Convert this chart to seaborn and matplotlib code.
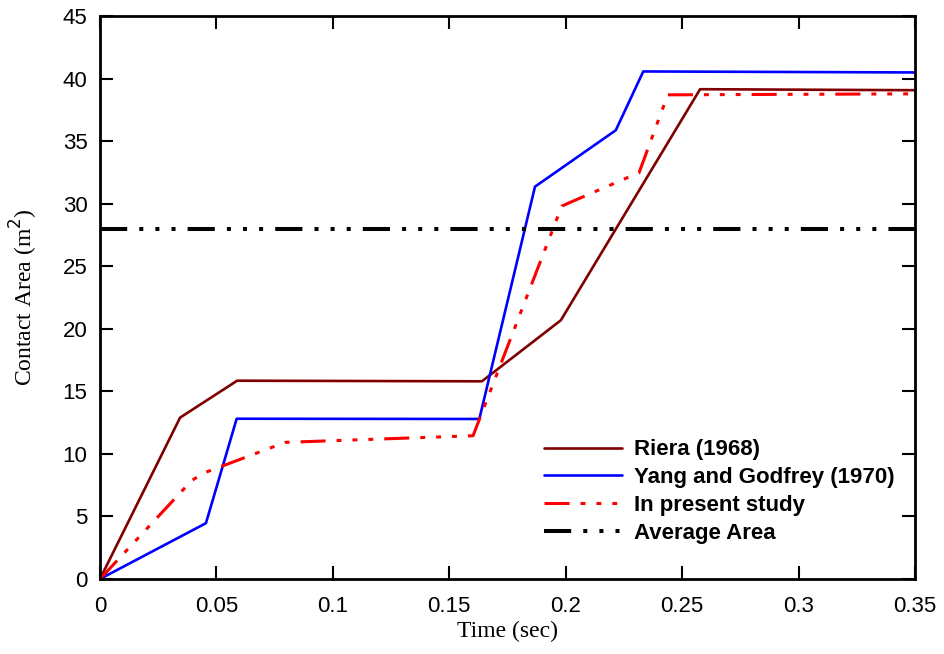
import numpy as np
import pandas as pd
import seaborn as sns
import matplotlib.pyplot as plt

# data
riera_t = [0, 0.0344, 0.0589, 0.164, 0.1979, 0.2577, 0.35]
riera_a = [0, 12.9, 15.85, 15.8, 20.68, 39.15, 39.07]

yang_t = [0, 0.0455, 0.0587, 0.1629, 0.1868, 0.2215, 0.2333, 0.35]
yang_a = [0, 4.46, 12.81, 12.79, 31.36, 35.87, 40.57, 40.49]

study_t = [0, 0.0394, 0.0443, 0.0795, 0.1602, 0.1983, 0.2016, 0.2315, 0.2438, 0.35]
study_a = [0, 7.87, 8.45, 10.92, 11.45, 29.8, 30.08, 32.48, 38.7, 38.78]

avg_area = 28
avg_t = [0, 0.35]

sns.set_style("ticks")
plt.rcParams['font.family'] = ['Liberation Sans', 'DejaVu Sans']
plt.rcParams['text.color'] = 'black'
plt.rcParams['axes.labelcolor'] = 'black'

fig = plt.figure(figsize=(9.45, 6.54), dpi=100)
ax = fig.add_axes([0.1058, 0.1147, 0.8625, 0.8608])

sns.lineplot(x=riera_t, y=riera_a, ax=ax, color='#800000', lw=1.9,
             sort=False, estimator=None, label='Riera (1968)')
sns.lineplot(x=yang_t, y=yang_a, ax=ax, color='#0000ff', lw=1.9,
             sort=False, estimator=None, label='Yang and Godfrey (1970)')
sns.lineplot(x=study_t, y=study_a, ax=ax, color='#ff0000', lw=2.2,
             sort=False, estimator=None, label='In present study',
             linestyle=(0, (8.2, 3.6, 1.6, 3.6, 1.6, 3.6, 1.6, 3.6)))
sns.lineplot(x=avg_t, y=[avg_area] * len(avg_t), ax=ax, color='black', lw=2.9,
             sort=False, estimator=None, label='Average Area',
             linestyle=(0, (6.75, 3, 1, 3, 1, 3, 1, 3)))

ax.set_xlim(0, 0.35)
ax.set_ylim(0, 45)
ax.set_xticks(np.arange(0, 0.351, 0.05))
ax.set_xticklabels(['0', '0.05', '0.1', '0.15', '0.2', '0.25', '0.3', '0.35'])
ax.set_yticks(np.arange(0, 46, 5))

ax.tick_params(direction='in', length=9.5, width=1.5, labelsize=16,
               top=True, right=True, colors='black')
ax.tick_params(axis='x', pad=12)
ax.tick_params(axis='y', pad=9)
for s in ax.spines.values():
    s.set_linewidth(2)
    s.set_color('black')

ax.set_xlabel('Time (sec)', family='Liberation Serif', fontsize=17, labelpad=3)
ax.set_ylabel('Contact Area (m$^2$)', family='Liberation Serif', fontsize=17, labelpad=16)

leg = ax.legend(loc='upper left', bbox_to_anchor=(0.545, 0.248), frameon=False,
                prop={'weight': 'bold', 'size': 16}, handlelength=3.5,
                handletextpad=0.55, labelspacing=0.31, borderpad=0, borderaxespad=0)
for t in leg.get_texts():
    t.set_color('black')

fig.savefig('out.png', dpi=100)
